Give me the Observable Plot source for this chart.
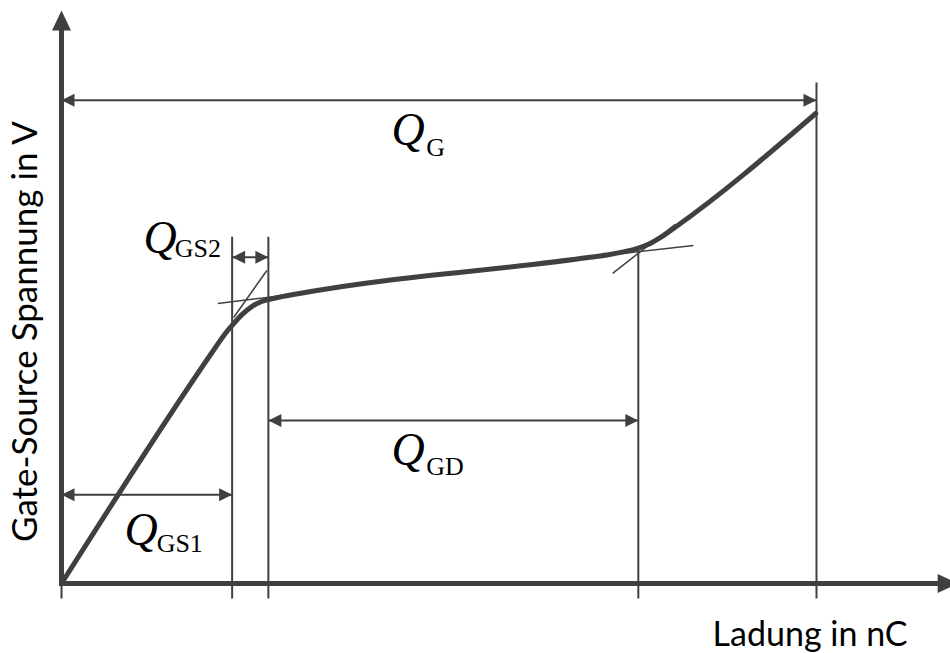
<!DOCTYPE html>
<html>
<head>
<meta charset="utf-8">
<script src="https://cdn.jsdelivr.net/npm/d3@7"></script>
<script src="https://cdn.jsdelivr.net/npm/@observablehq/plot@0.6"></script>
<style>
  html, body { margin: 0; padding: 0; background: #fff; }
  #chart svg { display: block; }
</style>
</head>
<body>
<div id="chart"></div>
<script>
// ---- data (charge in nC, gate-source voltage in V) ----
const curveQ = [0, 20.3, 21.6, 22.7, 23.9, 25.2, 26.5, 28.2, 31.5, 70.0, 72.6, 74.6, 76.3, 77.9, 79.5, 81.2, 99.9];
const curveV = [0, 5.00, 5.30, 5.51, 5.72, 5.89, 6.00, 6.07, 6.17, 6.94, 7.00, 7.06, 7.13, 7.23, 7.38, 7.57, 10.0];

// charge boundaries: 0, Q_GS1, Q_GS1+Q_GS2, +Q_GD, Q_G
const qBounds = [0, 22.6, 27.4, 76.4, 100];
const boundTopV = [null, 7.38, 7.38, 7.10, 10.66];
const tickBottomV = -0.32;

// tangent construction lines
const tanQ1 = [22.8, 20.7, 71.4, 73.0];
const tanV1 = [5.66, 5.96, 6.97, 6.60];
const tanQ2 = [27.2, 31.7, 83.7, 81.3];
const tanV2 = [6.66, 6.17, 7.19, 7.64];

// dimension arrows and labels
const dimNames = ["G", "GS2", "GD", "GS1"];
const dimV = [10.28, 6.94, 3.47, 1.89];
const dimFrom = [0, 22.6, 27.4, 0];
const dimTo = [100, 27.4, 76.4, 22.6];
const labelQ = [43.7, 10.86, 43.7, 8.34];
const labelV = [9.34, 7.04, 2.53, 0.83];
const subQ = [48.3, 15.0, 48.3, 12.6];
const subV = [9.09, 6.94, 2.30, 0.66];

// axes
const axisEnd = [118.7, 12.19];
const axisTitles = ["Ladung in nC", "Gate-Source Spannung in V"];
const axisTitleQ = [112.05, -3.18];
const axisTitleV = [-1.32, 5.36];

// ---- build tables ----
const curve = curveQ.map((q, i) => ({q, v: curveV[i]}));
const bounds = qBounds.map((q, i) => ({q, top: boundTopV[i] ?? 0, bottom: tickBottomV}));
const tangents = tanQ1.map((q, i) => ({q1: q, v1: tanV1[i], q2: tanQ2[i], v2: tanV2[i]}));
const dims = dimNames.map((n, i) => ({n, v: dimV[i], from: dimFrom[i], to: dimTo[i],
  lq: labelQ[i], lv: labelV[i], sq: subQ[i], sv: subV[i]}));

const ink = "#404040";
function head(dir, len, hw) {
  return {draw(ctx) {
    ctx.moveTo(0, 0);
    if (dir === "right") { ctx.lineTo(-len, -hw); ctx.lineTo(-len, hw); }
    else if (dir === "left") { ctx.lineTo(len, -hw); ctx.lineTo(len, hw); }
    else { ctx.lineTo(-hw, len); ctx.lineTo(hw, len); }
    ctx.closePath();
  }};
}

const chart = Plot.plot({
  width: 950,
  height: 653,
  margin: 0,
  x: {domain: [-8.08, 117.75], axis: null},
  y: {domain: [-1.489, 12.404], axis: null},
  style: {background: "white", overflow: "hidden"},
  marks: [
    // boundary lines and ticks
    Plot.link(bounds, {x1: "q", x2: "q", y1: "bottom", y2: "top", stroke: ink, strokeWidth: 2}),
    // tangent construction lines
    Plot.link(tangents, {x1: "q1", y1: "v1", x2: "q2", y2: "v2", stroke: ink, strokeWidth: 1.5}),
    // dimension arrows
    Plot.link(dims, {x1: "from", x2: "to", y1: "v", y2: "v", stroke: ink, strokeWidth: 2}),
    Plot.dot(dims, {x: "from", y: "v", symbol: head("left", 13, 6.5), fill: ink, stroke: "none"}),
    Plot.dot(dims, {x: "to", y: "v", symbol: head("right", 13, 6.5), fill: ink, stroke: "none"}),
    // axes
    Plot.link([0], {x1: 0, y1: 0, x2: axisEnd[0] - 2, y2: 0, stroke: ink, strokeWidth: 5, strokeLinecap: "square"}),
    Plot.link([0], {x1: 0, y1: 0, x2: 0, y2: axisEnd[1] - 0.3, stroke: ink, strokeWidth: 5, strokeLinecap: "square"}),
    Plot.dot([0], {x: axisEnd[0], y: 0, symbol: head("right", 20, 9.5), fill: ink, stroke: "none"}),
    Plot.dot([0], {x: 0, y: axisEnd[1], symbol: head("up", 20, 9.5), fill: ink, stroke: "none"}),
    // gate charge curve
    Plot.line(curve, {x: "q", y: "v", curve: "monotone-x", stroke: ink, strokeWidth: 5, strokeLinejoin: "round", strokeLinecap: "round"}),
    // labels
    Plot.text(dims, {x: "lq", y: "lv", text: () => "Q", fontFamily: "Liberation Serif", fontStyle: "italic", fontSize: 46, textAnchor: "start", lineAnchor: "bottom", fill: "black"}),
    Plot.text(dims, {x: "sq", y: "sv", text: "n", fontFamily: "Liberation Serif", fontSize: 26, textAnchor: "start", lineAnchor: "bottom", fill: "black"}),
    Plot.text([0], {x: axisTitleQ[0], y: axisTitleV[0], text: () => axisTitles[0], fontFamily: "Lato", fontSize: 34, textAnchor: "end", lineAnchor: "bottom", fill: "black"}),
    Plot.text([0], {x: axisTitleQ[1], y: axisTitleV[1], text: () => axisTitles[1], fontFamily: "Lato", fontSize: 35, textAnchor: "middle", lineAnchor: "bottom", rotate: -90, fill: "black"})
  ]
});
document.getElementById("chart").appendChild(chart);
</script>
</body>
</html>
